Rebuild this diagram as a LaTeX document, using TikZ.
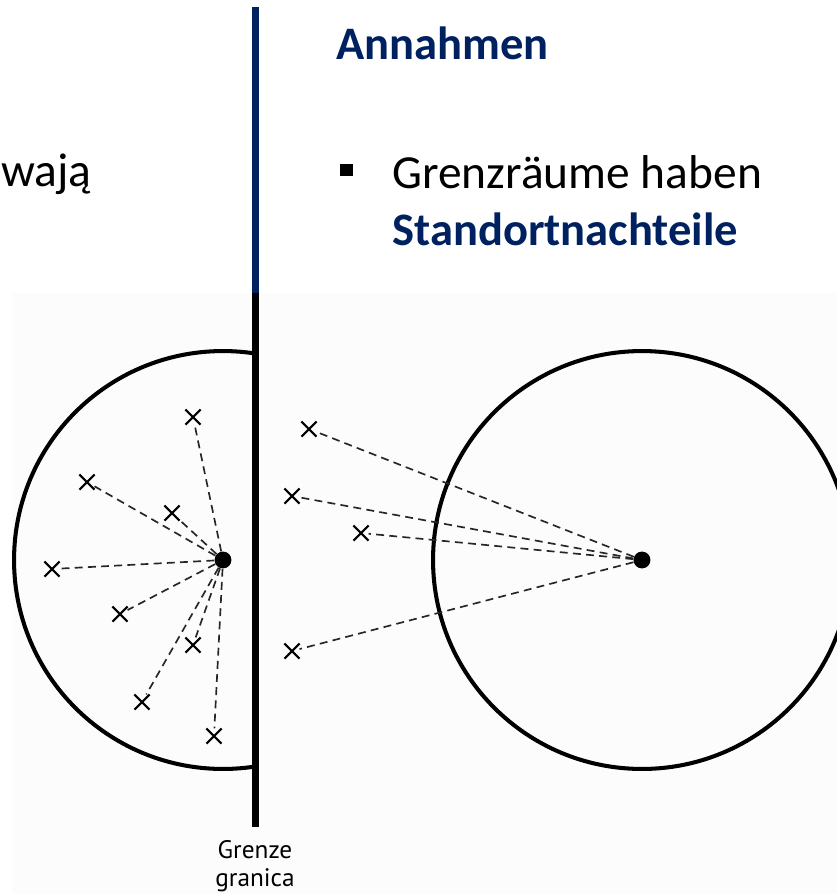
\documentclass[tikz,border=0pt]{standalone}
\usepackage{fontspec}
\setmainfont{Carlito}
\newfontfamily\mapfont{PT Sans}
\usetikzlibrary{shapes.misc,positioning}
\definecolor{navy}{RGB}{0,33,96}

\begin{document}
\begin{tikzpicture}[
  x=0.02cm, y=-0.02cm,
  border/.style={line width=4pt, line cap=butt},
  marketarea/.style={line width=2.3pt},
  link/.style={dash pattern=on 4.5pt off 3pt, line width=0.95pt, black!85},
  place/.style={cross out, draw, line width=1.2pt, minimum size=7.4pt, inner sep=0pt},
  centre/.style={circle, fill=black, inner sep=0pt, minimum size=9.6pt},
  slide/.style={font=\fontsize{27}{32}\selectfont, inner sep=0pt},
  tag/.style={font=\mapfont\fontsize{14.4}{17}\selectfont, inner sep=0pt}
]
  \useasboundingbox (0,0) rectangle (837,894);
  \fill[black!1] (12,293) rectangle (837,894);

  % text of the slide
  \node[slide, anchor=base east] (cut) at (92,186) {wają};
  \node[slide, anchor=base west, text=navy, font=\fontsize{26.5}{32}\selectfont\bfseries] (title) at (336,59) {Annahmen};
  \node[fill=black, inner sep=0pt, minimum size=7.2pt] (bullet) at (346.5,170) {};
  \node[slide, anchor=base west] (line1) at (392,188) {Grenzräume haben};
  \node[slide, anchor=base west, text=navy, font=\fontsize{26.5}{32}\selectfont\bfseries] (line2) at (392,245) {Standortnachteile};

  % the two market areas
  \node[centre] (lc) at (223,560) {};
  \node[centre] (rc) at (642,560) {};
  \begin{scope}
    \clip (0,0) rectangle (255,894);
    \draw[marketarea] (lc.center) circle [radius=4.18cm];
  \end{scope}
  \draw[marketarea] (rc.center) circle [radius=4.18cm];

  % customers on the near side
  \node[place] (a1) at (193,417) {};
  \node[place] (a2) at (87,482) {};
  \node[place] (a3) at (172,513) {};
  \node[place] (a4) at (52,569) {};
  \node[place] (a5) at (120,614) {};
  \node[place] (a6) at (193,645) {};
  \node[place] (a7) at (142,702) {};
  \node[place] (a8) at (214,736) {};
  \foreach \i in {1,...,8}
    \draw[link] (lc) -- (a\i);

  % customers beyond the border
  \node[place] (b1) at (309,429) {};
  \node[place] (b2) at (292,496) {};
  \node[place] (b3) at (361,533) {};
  \node[place] (b4) at (292,651) {};
  \foreach \i in {1,...,4}
    \draw[link] (rc) -- (b\i);

  % the border
  \coordinate (top) at (255.5,7);
  \coordinate (mid) at (255.5,293);
  \coordinate (end) at (255.5,827);
  \draw[border, navy] (top) -- (mid);
  \draw[border] (mid) -- (end);
  \node[tag, anchor=base] (grenze) at (255,858) {Grenze};
  \node[tag, anchor=base] (granica) at (255,886) {granica};
\end{tikzpicture}
\end{document}
